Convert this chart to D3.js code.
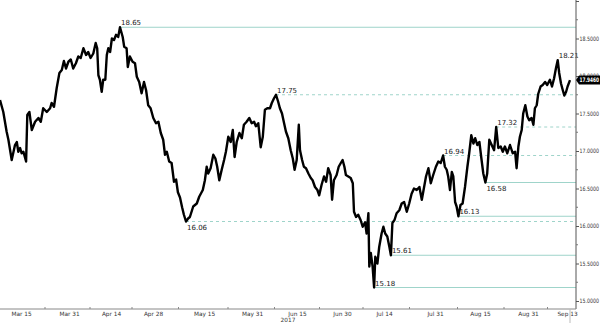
<!DOCTYPE html>
<html>
<head>
<meta charset="utf-8">
<script src="https://cdn.jsdelivr.net/npm/d3@7/dist/d3.min.js"></script>
<style>
  body { margin: 0; background: #fff; }
  svg { display: block; }
  text { font-family: "DejaVu Sans", sans-serif; }
</style>
</head>
<body>
<svg id="chart" width="600" height="323"></svg>
<script>
// days counted from 2017-03-08
const startDate = new Date(2017, 2, 8);
const dayOffsets = [
  0, 1.1, 2.2, 2.8, 3.9, 5, 5.6, 6.1, 6.7, 7.2, 7.8, 8.7, 9.1, 9.8, 10.6, 11.7, 12.8, 13.6,
  14.4, 15.6, 16.7, 17.2, 18, 18.9, 19.8, 20.6, 21.3, 22, 22.8, 23.6, 24.4, 25.3, 26.1, 26.9,
  27.8, 28.7, 29.4, 30.2, 31.1, 31.9, 32.4, 32.8, 33.3, 33.9, 34.4, 35.1, 35.6, 36.1, 36.7,
  37.3, 38, 38.7, 39.4, 40, 40.9, 41.4, 42.2, 42.6, 43.3, 44.2, 45, 45.6, 46.4, 47.2, 48,
  48.7, 49.4, 50.2, 51.1, 52, 52.8, 53.6, 54.4, 55, 55.6, 56.4, 57.2, 58, 58.7, 59.3, 60,
  60.7, 61.3, 62, 62.7, 63.3, 64.4, 65.6, 66.4, 67.6, 68.3, 68.9, 69.4, 70.2, 71.1, 71.8,
  72.4, 73.1, 73.9, 74.7, 75.3, 76.1, 76.9, 77.6, 78.2, 78.9, 79.8, 80.6, 81.3, 82.2, 83.1,
  83.9, 84.7, 85.3, 86.1, 86.9, 87.6, 88.3, 89.1, 90, 90.6, 91.3, 92, 92.7, 93.3, 94, 94.7,
  95.3, 96.1, 96.9, 97.6, 98.2, 98.9, 99.6, 100, 100.7, 101.3, 102, 102.8, 103.6, 104.2, 105,
  105.8, 106.4, 107.2, 108, 108.7, 109.4, 110.2, 110.7, 111.3, 112.2, 112.9, 113.6, 114.2,
  114.8, 115.3, 116.1, 116.9, 117.6, 118, 118.7, 119.4, 120.2, 120.9, 121.7, 122.2, 122.8,
  123.1, 123.6, 124.2, 124.7, 125.1, 125.8, 126.4, 127.2, 127.8, 128.4, 129.1, 129.8, 130.3,
  130.8, 131.5, 132.2, 133.1, 133.9, 134.7, 135.6, 136.4, 137.2, 138, 138.9, 139.8, 140.6,
  141.1, 142, 142.8, 143.6, 144.4, 145.3, 146.1, 146.9, 147.7, 148.3, 148.9, 149.4, 150,
  150.6, 151.1, 151.7, 152.2, 152.8, 153.5, 154.2, 155, 155.8, 156.4, 157.1, 157.8, 158.4,
  159.1, 159.8, 160.4, 161.1, 161.8, 162.4, 163.1, 163.9, 164.7, 165.4, 166.1, 166.9, 167.6,
  168.3, 169.1, 170, 170.9, 171.7, 172.2, 172.8, 173.3, 173.9, 174.4, 175.1, 175.8, 176.4,
  177.2, 177.8, 178.3, 178.9, 179.4, 180.2, 180.9, 181.7, 182.4, 183.3, 184, 184.7, 185.3,
  185.9, 186.4, 187, 187.6, 188.1, 188.7, 189.2, 190
];
const prices = [
  17.68, 17.52, 17.26, 17.15, 16.88, 17.08, 17.12, 16.99, 17.04, 16.97, 16.99, 16.86, 17.48, 17.52, 17.28, 17.39, 17.44, 17.39,
  17.57, 17.52, 17.57, 17.64, 17.59, 17.84, 18.04, 18.08, 18.20, 18.10, 18.19, 18.22, 18.10, 18.17, 18.26, 18.24,
  18.37, 18.28, 18.32, 18.24, 18.30, 18.44, 18.37, 18.01, 17.95, 17.79, 17.95, 17.95, 18.28, 18.37, 18.32,
  18.50, 18.48, 18.55, 18.52, 18.65, 18.52, 18.39, 18.37, 18.12, 18.26, 18.19, 18.17, 17.99, 17.92, 17.77, 17.92,
  17.81, 17.61, 17.57, 17.44, 17.37, 17.39, 17.24, 17.15, 16.95, 16.99, 16.86, 16.84, 16.59, 16.62, 16.45, 16.38,
  16.25, 16.15, 16.06, 16.10, 16.12, 16.26, 16.30, 16.39, 16.48, 16.61, 16.79, 16.70, 16.77, 16.95, 16.90,
  16.79, 16.61, 16.75, 16.88, 16.99, 17.19, 17.12, 17.28, 16.92, 17.12, 17.24, 17.17, 17.35, 17.39, 17.44,
  17.37, 17.39, 17.33, 17.37, 17.05, 17.19, 17.55, 17.57, 17.57, 17.64, 17.70, 17.75, 17.66, 17.57, 17.50, 17.37,
  17.26, 17.17, 17.01, 16.90, 16.75, 16.88, 17.35, 17.01, 16.88, 16.79, 16.77, 16.70, 16.64, 16.61, 16.52,
  16.48, 16.41, 16.55, 16.66, 16.59, 16.77, 16.68, 16.35, 16.61, 16.68, 16.79, 16.84, 16.88,
  16.79, 16.68, 16.66, 16.64, 16.57, 16.19, 16.12, 16.15, 16.08, 15.99, 16.05, 15.90, 16.17,
  15.46, 15.64, 15.46, 15.18, 15.59, 15.50, 15.72, 15.90, 15.99, 15.90, 15.86, 15.72, 15.61,
  16.04, 16.08, 16.17, 16.21, 16.30, 16.32, 16.19, 16.30, 16.43, 16.50, 16.48, 16.52, 16.35,
  16.46, 16.66, 16.77, 16.57, 16.68, 16.79, 16.86, 16.84, 16.94, 16.79, 16.75, 16.66, 16.48,
  16.72, 16.66, 16.32, 16.26, 16.13, 16.28, 16.30, 16.52, 16.79, 16.97, 17.21, 17.10, 17.17,
  17.08, 17.12, 16.92, 16.70, 16.58, 16.70, 17.15, 17.08, 17.01, 17.32, 17.04, 17.06, 16.99,
  17.06, 16.97, 17.08, 16.97, 16.99, 16.77, 17.06, 17.19, 17.28, 17.50, 17.61, 17.46, 17.41,
  17.44, 17.35, 17.57, 17.61, 17.76, 17.86, 17.88, 17.92, 17.88, 17.95, 17.86, 17.97, 18.10,
  18.21, 18.04, 17.90, 17.81, 17.74, 17.79, 17.86, 17.946
];

const tickDates = ['2017-03-15', '2017-03-31', '2017-04-14', '2017-04-28', '2017-05-15', '2017-05-31',
  '2017-06-15', '2017-06-30', '2017-07-14', '2017-07-31', '2017-08-15', '2017-08-31', '2017-09-13'];
const tickLabels = ['Mar 15', 'Mar 31', 'Apr 14', 'Apr 28', 'May 15', 'May 31',
  'Jun 15', 'Jun 30', 'Jul 14', 'Jul 31', 'Aug 15', 'Aug 31', 'Sep 13'];
const yearLabel = '2017';
const yMajor = [15, 15.5, 16, 16.5, 17, 17.5, 18, 18.5, 19];

// high / low markers
const markerValues = [18.65, 17.75, 16.06, 15.18, 15.61, 16.13, 16.94, 16.58, 17.32, 18.21];
const markerDashed = [false, true, true, false, false, false, true, false, true, false];
const markerBelow = [false, false, true, false, false, false, false, true, false, false];
const markerHasLine = [true, true, true, true, true, true, true, true, true, false];

const lastValue = 17.946;

const width = 600, height = 323;
const plotRight = 576, axisY = 309;
const axisFont = '"Liberation Sans", Arial, sans-serif';

const parse = d3.timeParse('%Y-%m-%d');
const data = dayOffsets.map((d, i) => ({
  date: new Date(startDate.getTime() + d * 864e5),
  value: prices[i]
}));

const x = d3.scaleTime()
  .domain([startDate, d3.timeDay.offset(startDate, 192)])
  .range([0, plotRight]);
const y = d3.scaleLinear().domain([15, 19]).range([301, 1]);

const svg = d3.select('#chart');

// marker lines
const lineColor = '#9fd4ca';
markerValues.forEach((v, i) => {
  const idx = prices.indexOf(v);
  const px = x(data[idx].date);
  const py = y(v);
  if (markerHasLine[i]) {
    svg.append('line')
      .attr('x1', px).attr('x2', plotRight)
      .attr('y1', py).attr('y2', py)
      .attr('stroke', lineColor)
      .attr('stroke-width', 1)
      .attr('stroke-dasharray', markerDashed[i] ? '3,3' : null);
  }
  svg.append('text')
    .attr('x', px + 1)
    .attr('y', markerBelow[i] ? py + 8 : py - 2)
    .attr('font-size', 7)
    .attr('fill', '#222')
    .text(v.toFixed(2));
});

// price line
const line = d3.line()
  .x(d => x(d.date))
  .y(d => y(d.value));

svg.append('path')
  .datum(data)
  .attr('d', line)
  .attr('fill', 'none')
  .attr('stroke', '#000')
  .attr('stroke-width', 2.4)
  .attr('stroke-linejoin', 'round');

// right axis
const yAxis = d3.axisRight(y)
  .tickValues(yMajor)
  .tickSize(3)
  .tickPadding(0.5)
  .tickFormat(d => d === 19 ? '' : d3.format('.4f')(d));

const ya = svg.append('g')
  .attr('transform', `translate(${plotRight},0)`)
  .call(yAxis);
ya.select('.domain').attr('d', `M0,0V${axisY}`).attr('stroke', '#555');
ya.selectAll('.tick line').attr('stroke', '#555');
ya.selectAll('.tick text')
  .attr('font-size', 6)
  .attr('fill', '#333')
  .attr('font-family', axisFont)
  .attr('textLength', d => d === 19 ? null : 19.5)
  .attr('lengthAdjust', 'spacingAndGlyphs');

const yMinor = d3.range(15.25, 19, 0.5);
ya.selectAll('.minor')
  .data(yMinor)
  .enter().append('line')
  .attr('class', 'minor')
  .attr('x1', 0).attr('x2', 2)
  .attr('y1', d => y(d)).attr('y2', d => y(d))
  .attr('stroke', '#777');

// last value box
const ly = y(lastValue);
svg.append('path')
  .attr('d', `M${plotRight},${ly} L${plotRight + 3},${ly - 4.5} H600 V${ly + 4.5} H${plotRight + 3} Z`)
  .attr('fill', '#000');
svg.append('text')
  .attr('x', plotRight + 3.5)
  .attr('y', ly + 2.3)
  .attr('font-size', 6.2)
  .attr('font-family', axisFont)
  .attr('font-weight', 'bold')
  .attr('fill', '#fff')
  .attr('textLength', 19.5)
  .attr('lengthAdjust', 'spacingAndGlyphs')
  .text(lastValue.toFixed(4));

// bottom axis
const tickDateObjs = tickDates.map(parse);
const xAxis = d3.axisBottom(x)
  .tickValues(tickDateObjs)
  .tickSize(0)
  .tickPadding(3)
  .tickFormat((d, i) => tickLabels[i]);

const xa = svg.append('g')
  .attr('transform', `translate(0,${axisY})`)
  .call(xAxis);
xa.select('.domain').attr('d', `M0,0H${plotRight}`).attr('stroke', '#888');
xa.selectAll('.tick text').attr('font-size', 5.8).attr('fill', '#333')
  .attr('font-family', '"DejaVu Sans", sans-serif');

// minor ticks between labels
const midDates = tickDateObjs.slice(1).map((d, i) => new Date((d.getTime() + tickDateObjs[i].getTime()) / 2));
xa.selectAll('.xminor')
  .data(midDates)
  .enter().append('line')
  .attr('class', 'xminor')
  .attr('x1', d => x(d)).attr('x2', d => x(d))
  .attr('y1', -2).attr('y2', 0)
  .attr('stroke', '#888');

// last date marker below the axis
svg.append('line')
  .attr('x1', x(data[data.length - 1].date)).attr('x2', x(data[data.length - 1].date))
  .attr('y1', axisY).attr('y2', height)
  .attr('stroke', '#bbb');

svg.append('text')
  .attr('x', plotRight / 2)
  .attr('y', 322)
  .attr('text-anchor', 'middle')
  .attr('font-size', 5.8)
  .attr('fill', '#333')
  .text(yearLabel);
</script>
</body>
</html>
